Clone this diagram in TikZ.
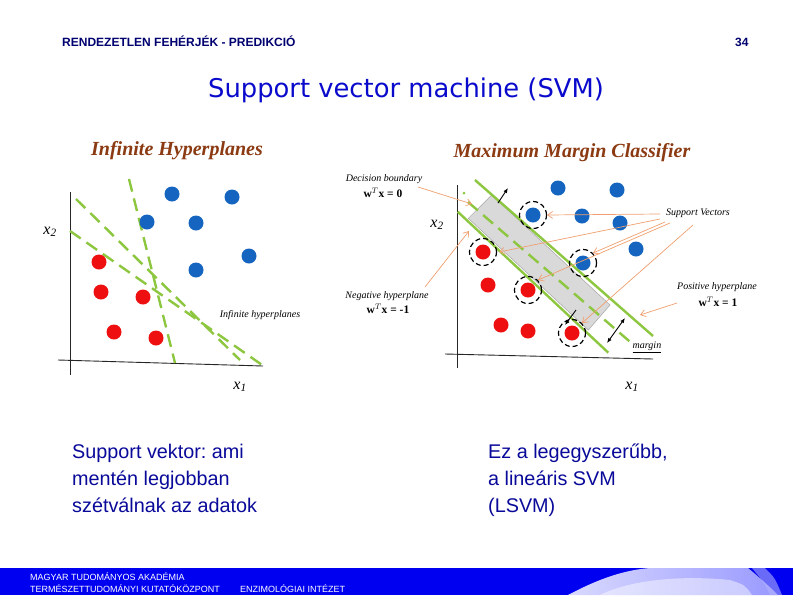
\documentclass[tikz,border=0pt]{standalone}
\usepackage{fontspec}
\setmainfont{Liberation Sans}
\newfontfamily\serif{Liberation Serif}
\newfontfamily\titlefont{DejaVu Sans}
\usetikzlibrary{arrows.meta}
\frenchspacing
\definecolor{navy}{HTML}{000070}
\definecolor{titleblue}{HTML}{0A0ACC}
\definecolor{bodyblue}{HTML}{0A0A9A}
\definecolor{bandblue}{HTML}{0000F0}
\definecolor{ptblue}{HTML}{1565C0}
\definecolor{ptred}{HTML}{EE1010}
\definecolor{hgreen}{HTML}{8DC63F}
\definecolor{brown}{HTML}{8B3A12}
\definecolor{orangeln}{HTML}{F0A070}
\tikzset{
  bdot/.style={circle,fill=ptblue,minimum size=15pt,inner sep=0pt},
  rdot/.style={circle,fill=ptred,minimum size=15pt,inner sep=0pt},
  svring/.style={circle,draw=black,dash pattern=on 5pt off 3pt,line width=1.2pt,minimum size=27pt,inner sep=0pt},
  gdash/.style={draw=hgreen,line width=2.4pt,dash pattern=on 13pt off 7pt},
  gsolid/.style={draw=hgreen,line width=2.4pt},
  axisln/.style={draw=black!85,line width=0.9pt},
  oarrow/.style={draw=orangeln,line width=0.7pt,-{Straight Barb[length=5pt,width=7pt]}},
  barrow/.style={draw=black,line width=0.9pt,-{Latex[length=5pt,width=4pt]}},
  ptitle/.style={text=brown,font=\serif\bfseries\itshape\fontsize{20}{20}\selectfont,inner sep=0pt},
  ann/.style={font=\serif\itshape\fontsize{10}{10}\selectfont,inner sep=0pt},
  annb/.style={font=\serif\bfseries\fontsize{11.5}{11.5}\selectfont,inner sep=0pt},
  axlab/.style={font=\serif\itshape\fontsize{16}{16}\selectfont,inner sep=0pt},
  bodytext/.style={text=bodyblue,font=\fontsize{19.8}{27}\selectfont,align=left,anchor=base west,inner sep=0pt},
  foot/.style={text=white,font=\fontsize{9}{9}\selectfont,anchor=base west,inner sep=0pt}
}
\begin{document}
\begin{tikzpicture}[x=1pt,y=-1pt]
\useasboundingbox (0,0) rectangle (793,595);
\fill[white] (0,0) rectangle (793,595);

% header
\node[text=navy,font=\bfseries\fontsize{12}{12}\selectfont,anchor=base west,inner sep=0pt] (hdr) at (62,46) {RENDEZETLEN FEHÉRJÉK - PREDIKCIÓ};
\node[text=navy,font=\bfseries\fontsize{12}{12}\selectfont,anchor=base west,inner sep=0pt] (pg) at (735,46) {34};
\node[text=titleblue,font=\titlefont\fontsize{25.8}{25.8}\selectfont,anchor=base,inner sep=0pt] (title) at (406,97) {Support vector machine (SVM)};

% ===== left panel =====
\node[ptitle] (lt) at (177,151) {Infinite Hyperplanes};
\draw[axisln] (70,192) -- (70,375);
\draw[axisln] (58,360) -- (263,366);
\node[axlab] (lx2) at (50,232) {x\textsubscript{2}};
\node[axlab] (lx1) at (240,387) {x\textsubscript{1}};
\draw[gdash] (129,179) -- (175,363);
\draw[gdash] (76,199) -- (240,360);
\draw[gdash] (70,231) -- (265,367);
\node[bdot] (lb1) at (172,194) {};
\node[bdot] (lb2) at (232,197) {};
\node[bdot] (lb3) at (147,222) {};
\node[bdot] (lb4) at (196,223) {};
\node[bdot] (lb5) at (249,256) {};
\node[bdot] (lb6) at (196,270) {};
\node[rdot] (lr1) at (99,262) {};
\node[rdot] (lr2) at (101,292) {};
\node[rdot] (lr3) at (143,297) {};
\node[rdot] (lr4) at (114,332) {};
\node[rdot] (lr5) at (156,338) {};
\node[ann] (linf) at (260,315) {Infinite hyperplanes};

% ===== right panel =====
\node[ptitle] (rt) at (572,153) {Maximum Margin Classifier};
\draw[axisln] (457.7,185) -- (457.7,368);
\draw[axisln] (445,354) -- (653,359);
\node[axlab] (rx2) at (437,225) {x\textsubscript{2}};
\node[axlab] (rx1) at (632,387) {x\textsubscript{1}};
\fill[gray!30,draw=gray!70,line width=0.5pt] (491.7,195) -- (610,305) -- (588.3,330) -- (468.3,218.3) -- cycle;
\draw[gsolid] (475,180) -- (653,336);
\draw[gsolid] (457.7,211.7) -- (608.3,352.7);
\draw[gdash] (468,202) -- (632,343.5);
\fill[hgreen] (464,193) circle (1.5pt);

\node[bdot] (rb1) at (558,188) {};
\node[bdot] (rb2) at (617,190) {};
\node[bdot] (rb3) at (533,215) {};
\node[bdot] (rb4) at (582,216) {};
\node[bdot] (rb5) at (620,223) {};
\node[bdot] (rb6) at (636,249) {};
\node[bdot] (rb7) at (583,263) {};
\node[rdot] (rr1) at (483,252) {};
\node[rdot] (rr2) at (488,285) {};
\node[rdot] (rr3) at (528,290) {};
\node[rdot] (rr4) at (501,325) {};
\node[rdot] (rr5) at (528,331) {};
\node[rdot] (rr6) at (572,333) {};
\node[svring] (s1) at (rb3) {};
\node[svring] (s2) at (rb7) {};
\node[svring] (s3) at (rr1) {};
\node[svring] (s4) at (rr3) {};
\node[svring] (s5) at (rr6) {};

% black arrows
\coordinate (n1a) at (498,203); \coordinate (n1b) at (508,188);
\coordinate (n2a) at (576,310); \coordinate (n2b) at (565,325);
\coordinate (m1) at (607,343); \coordinate (m2) at (625,318);
\draw[barrow] (n1a) -- (n1b);
\draw[barrow] (n2a) -- (n2b);
\draw[barrow,{Latex[length=5pt,width=4pt]}-{Latex[length=5pt,width=4pt]}] (m1) -- (m2);

% labels
\node[ann] (db) at (384,179) {Decision boundary};
\node[annb] (dbe) at (383,193) {w$^{T}$x = 0};
\node[ann] (nh) at (387,296) {Negative hyperplane};
\node[annb] (nhe) at (388,309) {w$^{T}$x = -1};
\node[ann] (sv) at (698,213) {Support Vectors};
\node[ann] (ph) at (717,287) {Positive hyperplane};
\node[annb] (phe) at (718,302) {w$^{T}$x = 1};
\node[ann] (mg) at (647,347) {\underline{margin}};

% orange connectors
\coordinate (dbs) at (418,187); \coordinate (dbt) at (472,204);
\coordinate (nhs) at (425,287); \coordinate (nht) at (469,231);
\coordinate (phs) at (677,303); \coordinate (pht) at (640,315);
\draw[oarrow] (dbs) -- (dbt);
\draw[oarrow] (nhs) -- (nht);
\draw[oarrow] (phs) -- (pht);
\coordinate (sv1) at (660,214); \coordinate (sv2) at (660,219);
\coordinate (sv3) at (665,222); \coordinate (sv4) at (670,223);
\coordinate (sv5) at (693,225);
\draw[oarrow] (sv1) -- (s1.east);
\draw[oarrow] (sv2) -- ([xshift=2pt]s3.east);
\draw[oarrow] (sv3) -- (s2.north east);
\draw[oarrow] (sv4) -- (s4.north east);
\draw[oarrow] (sv5) -- (s5.north east);

% body text
\node[bodytext] (bl) at (72,512) {Support vektor: ami\\mentén legjobban\\szétválnak az adatok};
\node[bodytext] (br) at (488,512) {Ez a legegyszerűbb,\\a lineáris SVM\\(LSVM)};

% footer band
\fill[bandblue] (0,568) rectangle (793,595);
\shade[left color=white!85!blue,right color=blue!40!white] (568,595) .. controls (600,578) and (625,570) .. (650,568) -- (748,568) .. controls (760,578) and (770,587) .. (778,595) -- cycle;
\fill[white,opacity=0.45] (600,595) .. controls (630,580) and (680,575) .. (730,580) .. controls (745,585) .. (752,595) -- cycle;
\fill[blue!30!white,opacity=0.6] (752,568) -- (765,568) .. controls (775,578) .. (782,595) -- (770,595) .. controls (765,584) .. (752,568) -- cycle;
\node[foot] (f1) at (30,580.5) {MAGYAR TUDOMÁNYOS AKADÉMIA};
\node[foot] (f2) at (30,592) {TERMÉSZETTUDOMÁNYI KUTATÓKÖZPONT};
\node[foot] (f3) at (240,592) {ENZIMOLÓGIAI INTÉZET};
\end{tikzpicture}
\end{document}
